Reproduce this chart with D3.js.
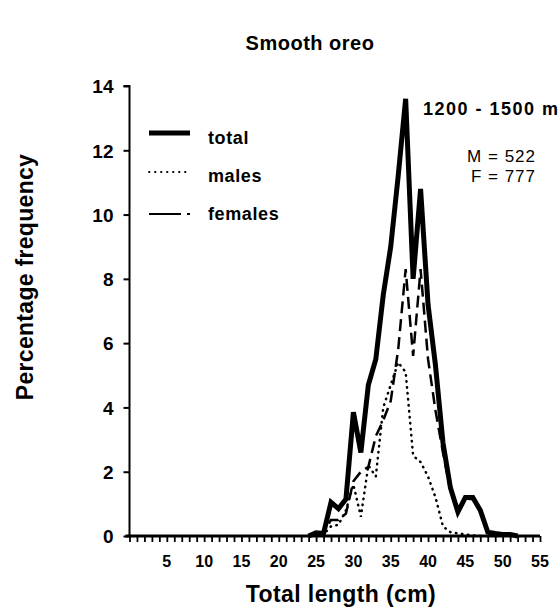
<!DOCTYPE html>
<html>
<head>
<meta charset="utf-8">
<script src="https://cdn.jsdelivr.net/npm/d3@7"></script>
<style>
  body { margin: 0; background: #fff; }
  text { font-family: "Liberation Sans", Arial, sans-serif; fill: #000; }
</style>
</head>
<body>
<div id="chart"></div>
<script>
// length classes (cm)
var lengths = [24, 25, 26, 27, 28, 29, 30, 31, 32, 33, 34, 35, 36, 37, 38,
               39, 40, 41, 42, 43, 44, 45, 46, 47, 48, 49, 50, 51, 52];

// percentage frequency
var total   = [0, 0.1, 0.08, 1.05, 0.85, 1.15, 3.85, 2.6, 4.7, 5.5, 7.5, 9.0, 11.2, 13.6, 8.0,
               10.8, 7.2, 5.3, 2.9, 1.5, 0.75, 1.2, 1.2, 0.8, 0.12, 0.08, 0.05, 0.05, 0];
var males   = [null, 0, 0.05, 0.3, 0.35, 0.8, 1.6, 0.6, 2.2, 1.85, 4.0, 4.7, 5.4, 5.1, 2.5,
               2.3, 1.85, 1.2, 0.3, 0.12, 0.08, 0.05, 0.02, 0, null, null, null, null, null];
var females = [null, 0.1, 0.1, 0.5, 0.5, 0.7, 1.7, 2.0, 2.15, 3.1, 3.6, 4.2, 5.8, 8.3, 5.6,
               8.3, 5.5, 3.9, 2.6, 1.4, 0.7, 1.15, 1.15, 0.8, 0.1, 0.05, null, null, null];

var yTicks = [0, 2, 4, 6, 8, 10, 12, 14];
var xLabels = [5, 10, 15, 20, 25, 30, 35, 40, 45, 50, 55];

var width = 560, height = 613;
var margin = {left: 129.5, top: 86, right: 20, bottom: 77};

var svg = d3.select("#chart").append("svg")
    .attr("width", width)
    .attr("height", height);

var x = d3.scaleLinear()
    .domain([0, 55])
    .range([margin.left, 540]);

var y = d3.scaleLinear()
    .domain([0, 14])
    .range([536, margin.top]);

// y axis
var yAxis = svg.append("g")
    .attr("transform", "translate(" + margin.left + ",0)")
    .call(d3.axisLeft(y).tickValues(yTicks).tickSize(6).tickPadding(10).tickFormat(d3.format("d")));
yAxis.select(".domain").attr("stroke-width", 2).attr("d", "M-6," + y(14) + "H0V" + y(0));
yAxis.selectAll(".tick line").attr("stroke-width", 2);
yAxis.selectAll(".tick text")
    .attr("dy", "0.36em")
    .style("font-size", "19px").style("font-weight", "bold").style("font-family", "Liberation Sans, Arial");

// x axis, a tick every cm
var xAxis = svg.append("g")
    .attr("transform", "translate(0," + y(0) + ")")
    .call(d3.axisBottom(x).tickValues(d3.range(0, 56)).tickSize(6).tickFormat(""));
xAxis.select(".domain").attr("stroke-width", 3).attr("d", "M" + (x(0) - 4) + ",0H" + x(55));
xAxis.selectAll(".tick line").attr("stroke-width", 1.8);

svg.append("g").selectAll("text")
    .data(xLabels)
    .join("text")
    .attr("x", function(d) { return x(d); })
    .attr("y", 567)
    .attr("text-anchor", "middle")
    .style("font-size", "16px")
    .style("font-weight", "bold")
    .text(function(d) { return d; });

// lines
function makeLine(values) {
    return d3.line()
        .defined(function(d, i) { return values[i] !== null; })
        .x(function(d) { return x(d); })
        .y(function(d, i) { return y(values[i]); });
}

svg.append("path")
    .datum(lengths)
    .attr("fill", "none")
    .attr("stroke", "#000")
    .attr("stroke-width", 2.5)
    .attr("stroke-linecap", "round")
    .attr("stroke-dasharray", "0.5,5.5")
    .attr("d", makeLine(males));

svg.append("path")
    .datum(lengths)
    .attr("fill", "none")
    .attr("stroke", "#000")
    .attr("stroke-width", 2.5)
    .attr("stroke-dasharray", "12,6")
    .attr("d", makeLine(females));

svg.append("path")
    .datum(lengths)
    .attr("fill", "none")
    .attr("stroke", "#000")
    .attr("stroke-width", 5)
    .attr("stroke-linejoin", "miter")
    .attr("d", makeLine(total));

// legend
var legend = svg.append("g");
legend.append("line").attr("x1", 149).attr("x2", 190).attr("y1", 133).attr("y2", 133)
    .attr("stroke", "#000").attr("stroke-width", 5);
legend.append("line").attr("x1", 149).attr("x2", 190).attr("y1", 172).attr("y2", 172)
    .attr("stroke", "#000").attr("stroke-width", 1.8).attr("stroke-linecap", "round")
    .attr("stroke-dasharray", "0.5,5.5");
legend.append("line").attr("x1", 149).attr("x2", 190).attr("y1", 214).attr("y2", 214)
    .attr("stroke", "#000").attr("stroke-width", 2).attr("stroke-dasharray", "32,6,4,10");
var legendText = ["total", "males", "females"];
var legendY = [144, 182, 220];
legend.selectAll("text")
    .data(legendText)
    .join("text")
    .attr("x", 208)
    .attr("y", function(d, i) { return legendY[i]; })
    .style("font-size", "18px")
    .style("font-weight", "bold")
    .style("letter-spacing", "0.6px")
    .text(function(d) { return d; });

// annotations
svg.append("text")
    .attr("x", 423).attr("y", 115)
    .style("font-size", "18px").style("font-weight", "bold")
    .style("letter-spacing", "1.5px")
    .text("1200 - 1500 m");
svg.append("text")
    .attr("x", 536).attr("y", 162).attr("text-anchor", "end")
    .style("font-size", "17px")
    .style("letter-spacing", "1px")
    .text("M = 522");
svg.append("text")
    .attr("x", 536).attr("y", 182).attr("text-anchor", "end")
    .style("font-size", "17px")
    .style("letter-spacing", "1px")
    .text("F = 777");

// titles
svg.append("text")
    .attr("x", 310).attr("y", 50)
    .attr("text-anchor", "middle")
    .style("font-size", "20px").style("font-weight", "bold")
    .style("letter-spacing", "0.5px")
    .text("Smooth oreo");

svg.append("text")
    .attr("x", 341).attr("y", 602)
    .attr("text-anchor", "middle")
    .style("font-size", "23px").style("font-weight", "bold")
    .style("letter-spacing", "0.4px")
    .text("Total length (cm)");

svg.append("text")
    .attr("transform", "translate(33,277) rotate(-90)")
    .attr("text-anchor", "middle")
    .style("font-size", "23px")
    .style("font-weight", "bold")
    .style("letter-spacing", "0.3px")
    .text("Percentage frequency");
</script>
</body>
</html>
